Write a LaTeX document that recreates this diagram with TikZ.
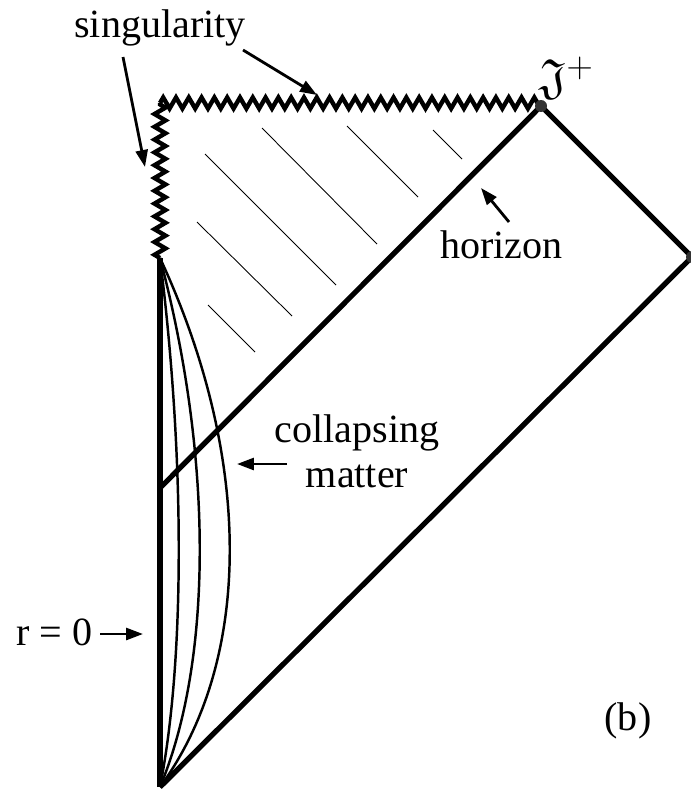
\documentclass[tikz,border=0pt]{standalone}
\usepackage{amsmath}
\usepackage{amsfonts}
\usepackage{fontspec}
\setmainfont{Liberation Serif}
\usetikzlibrary{decorations.pathmorphing,arrows.meta}
\definecolor{dotgray}{rgb}{0.2,0.2,0.2}

\begin{document}
\begin{tikzpicture}[x=0.02cm,y=-0.02cm,
  font=\fontsize{22.8}{27}\selectfont,
  bound/.style={line width=3pt},
  sing/.style={line width=2.5pt,line join=miter,decorate,decoration={zigzag,segment length=0.256cm,amplitude=0.11cm}},
  matter/.style={line width=1.4pt},
  hatch/.style={line width=0.5pt},
  pointer/.style={line width=1.6pt,-{Triangle[length=0.34cm,width=0.24cm]}},
  label/.style={inner sep=0pt}]
\useasboundingbox (0,0) rectangle (690,791);

\coordinate (A) at (160,787);
\coordinate (B) at (160,258);
\coordinate (C) at (160,103);
\coordinate (D) at (541,103);
\coordinate (E) at (541,106);
\coordinate (F) at (692,257);
\coordinate (H) at (160,488);

\draw [sing] (B) -- (C);
\draw [sing] (C) -- (D);
\draw [bound] (A) to (B);
\draw [bound] (H) to (E);
\draw [bound, line join=miter] (E) -- (F) -- (A);

\draw [matter] (A) .. controls (185,660) and (185,458) .. (B);
\draw [matter] (A) .. controls (213,660) and (213,458) .. (B);
\draw [matter] (A) .. controls (253,660) and (253,458) .. (B);

\draw [hatch] (262,128) -- (377,244);
\draw [hatch] (347,126) -- (418,197);
\draw [hatch] (433,130) -- (462,159);
\draw [hatch] (205,154) -- (336,285);
\draw [hatch] (197,222) -- (292,316);
\draw [hatch] (208,305) -- (255,352);

\fill [dotgray] (E) circle [radius=0.12cm];
\fill [dotgray] (F) circle [radius=0.12cm];

\node (singlabel) [label, anchor=base] at (160,37) {singularity};
\node (scri) [label, anchor=base west] at (539,93) {\fontsize{28}{32}\selectfont$\mathfrak{J}^{+}$};
\node (horlabel) [label, anchor=base west] at (440,258) {horizon};
\node (colllabel) [label, anchor=base] at (357,442) {collapsing};
\node (matlabel) [label, anchor=base] at (357,487) {matter};
\node (rlabel) [label, anchor=base west] at (16,645) {r = 0};
\node (blabel) [label, anchor=base] at (628,730) {(b)};

\coordinate (s1) at (123,57);
\coordinate (t1) at (145,167);
\coordinate (s2) at (243,50);
\coordinate (t2) at (317,95);
\coordinate (s3) at (509,222);
\coordinate (t3) at (481,188);
\coordinate (s4) at (287,464);
\coordinate (t4) at (237,464);
\coordinate (s5) at (100,634);
\coordinate (t5) at (143,634);

\draw [pointer] (s1) to (t1);
\draw [pointer] (s2) to (t2);
\draw [pointer] (s3) to (t3);
\draw [pointer] (s4) to (t4);
\draw [pointer] (s5) to (t5);

\end{tikzpicture}
\end{document}
